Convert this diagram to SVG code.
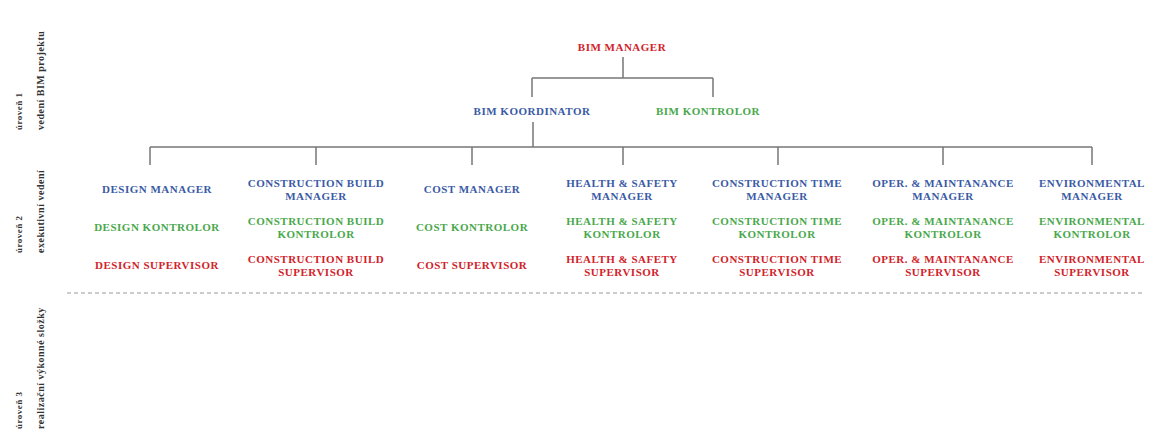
<svg xmlns="http://www.w3.org/2000/svg" width="1165" height="430" viewBox="0 0 1165 430">
<style>
text{font-family:"Liberation Serif","Times New Roman",serif;font-weight:bold;}
.n{font-size:11px;letter-spacing:0.5px;text-anchor:middle;}
.b{fill:#3a5aa6;}
.g{fill:#49a84c;}
.r{fill:#d1232a;}
.lv{font-size:9px;fill:#333;letter-spacing:0.5px;}
.lv2{font-size:10px;fill:#333;letter-spacing:0.5px;}
.ln{fill:none;stroke:#777;stroke-width:1.5;}
.dash{fill:none;stroke:#999;stroke-width:1.2;stroke-dasharray:4 3;}
</style>
<rect width="1165" height="430" fill="#fff"/>
<g id="levels">
<text class="lv" transform="translate(22,130) rotate(-90)">úroveň 1</text>
<text class="lv2" transform="translate(44,130) rotate(-90)">vedení BIM projektu</text>
<text class="lv" transform="translate(22,253) rotate(-90)">úroveň 2</text>
<text class="lv2" transform="translate(44,253) rotate(-90)">exekutivní vedení</text>
<text class="lv" transform="translate(22,429) rotate(-90)">úroveň 3</text>
<text class="lv2" transform="translate(44,429) rotate(-90)">realizační výkonné složky</text>
</g>
<g id="connectors">
<path class="ln" d="M623,57 V78 M532,78 H713 M532,78 V97 M713,78 V97"/>
<path class="ln" d="M533,122 V147 M150,147 H1092 M150,147 V165 M316,147 V165 M472,147 V165 M623,147 V165 M778,147 V165 M943,147 V165 M1092,147 V165"/>
<path class="dash" d="M67,293 H1145"/>
</g>
<g id="bim-manager"><text class="n r" x="622" y="51">BIM MANAGER</text></g>
<g id="bim-koordinator"><text class="n b" x="532" y="115">BIM KOORDINATOR</text></g>
<g id="bim-kontrolor"><text class="n g" x="708" y="115">BIM KONTROLOR</text></g>

<g id="design-manager"><text class="n b" x="157" y="193">DESIGN MANAGER</text></g>
<g id="design-kontrolor"><text class="n g" x="157" y="231">DESIGN KONTROLOR</text></g>
<g id="design-supervisor"><text class="n r" x="157" y="269">DESIGN SUPERVISOR</text></g>

<g id="cb-manager"><text class="n b" x="316" y="187">CONSTRUCTION BUILD</text><text class="n b" x="316" y="200">MANAGER</text></g>
<g id="cb-kontrolor"><text class="n g" x="316" y="225">CONSTRUCTION BUILD</text><text class="n g" x="316" y="238">KONTROLOR</text></g>
<g id="cb-supervisor"><text class="n r" x="316" y="263">CONSTRUCTION BUILD</text><text class="n r" x="316" y="276">SUPERVISOR</text></g>

<g id="cost-manager"><text class="n b" x="472" y="193">COST MANAGER</text></g>
<g id="cost-kontrolor"><text class="n g" x="472" y="231">COST KONTROLOR</text></g>
<g id="cost-supervisor"><text class="n r" x="472" y="269">COST SUPERVISOR</text></g>

<g id="hs-manager"><text class="n b" x="622" y="187">HEALTH &amp; SAFETY</text><text class="n b" x="622" y="200">MANAGER</text></g>
<g id="hs-kontrolor"><text class="n g" x="622" y="225">HEALTH &amp; SAFETY</text><text class="n g" x="622" y="238">KONTROLOR</text></g>
<g id="hs-supervisor"><text class="n r" x="622" y="263">HEALTH &amp; SAFETY</text><text class="n r" x="622" y="276">SUPERVISOR</text></g>

<g id="ct-manager"><text class="n b" x="777" y="187">CONSTRUCTION TIME</text><text class="n b" x="777" y="200">MANAGER</text></g>
<g id="ct-kontrolor"><text class="n g" x="777" y="225">CONSTRUCTION TIME</text><text class="n g" x="777" y="238">KONTROLOR</text></g>
<g id="ct-supervisor"><text class="n r" x="777" y="263">CONSTRUCTION TIME</text><text class="n r" x="777" y="276">SUPERVISOR</text></g>

<g id="om-manager"><text class="n b" x="943" y="187">OPER. &amp; MAINTANANCE</text><text class="n b" x="943" y="200">MANAGER</text></g>
<g id="om-kontrolor"><text class="n g" x="943" y="225">OPER. &amp; MAINTANANCE</text><text class="n g" x="943" y="238">KONTROLOR</text></g>
<g id="om-supervisor"><text class="n r" x="943" y="263">OPER. &amp; MAINTANANCE</text><text class="n r" x="943" y="276">SUPERVISOR</text></g>

<g id="env-manager"><text class="n b" x="1092" y="187">ENVIRONMENTAL</text><text class="n b" x="1092" y="200">MANAGER</text></g>
<g id="env-kontrolor"><text class="n g" x="1092" y="225">ENVIRONMENTAL</text><text class="n g" x="1092" y="238">KONTROLOR</text></g>
<g id="env-supervisor"><text class="n r" x="1092" y="263">ENVIRONMENTAL</text><text class="n r" x="1092" y="276">SUPERVISOR</text></g>
</svg>
